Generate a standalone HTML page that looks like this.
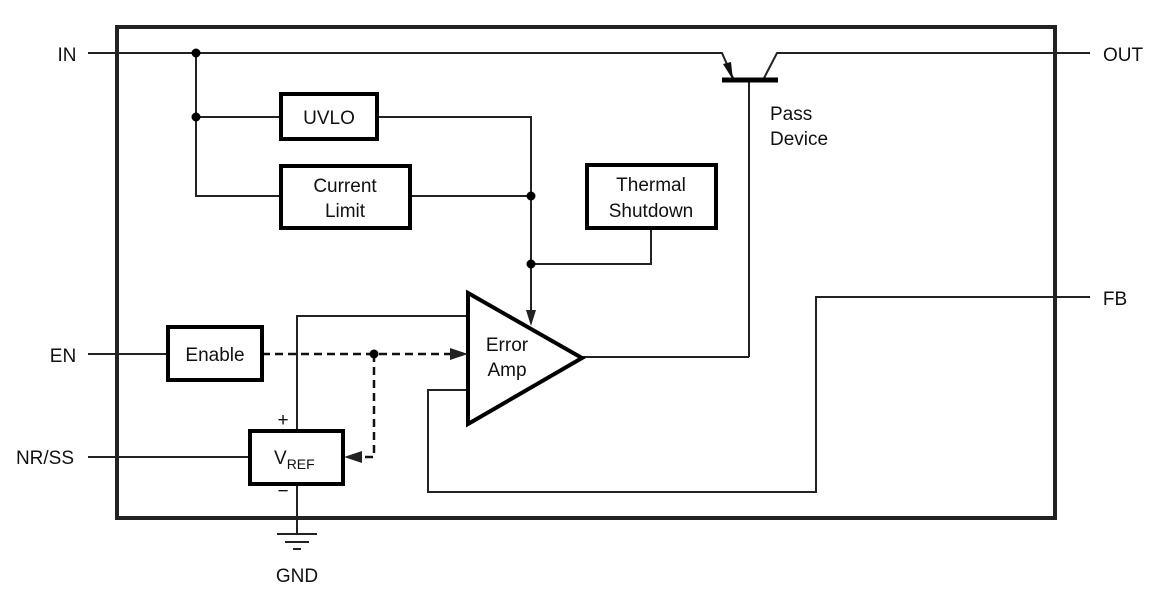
<!DOCTYPE html>
<html><head><meta charset="utf-8"><style>
html,body{margin:0;padding:0;background:#fff;}
svg{display:block;}
text{font-family:"Liberation Sans",Arial,sans-serif;font-size:19px;fill:#111;}
</style></head><body>
<svg width="1156" height="594" viewBox="0 0 1156 594" xmlns="http://www.w3.org/2000/svg">
<rect x="117" y="27" width="938" height="491" fill="none" stroke="#222" stroke-width="4"/>
<g fill="none" stroke="#222" stroke-width="2">
<polyline points="88,53 722,53 733,78"/>
<polyline points="763,80 777,53 1090,53"/>
<line x1="749" y1="80" x2="749" y2="357"/>
<line x1="749" y1="357" x2="582" y2="357"/>
<polyline points="196,53 196,196 281,196"/>
<line x1="196" y1="117" x2="281" y2="117"/>
<polyline points="377,117 531,117 531,312"/>
<line x1="410" y1="196" x2="531" y2="196"/>
<polyline points="531,264 651,264 651,228"/>
<line x1="88" y1="354" x2="167" y2="354"/>
<line x1="88" y1="457" x2="249" y2="457"/>
<polyline points="297,431 297,316 468,316"/>
<line x1="297" y1="484" x2="297" y2="534"/>
<line x1="277" y1="534" x2="317" y2="534"/>
<line x1="285" y1="542" x2="309" y2="542"/>
<line x1="293" y1="549" x2="301" y2="549"/>
<polyline points="468,390 428,390 428,492 816,492 816,297 1090,297"/>
</g>
<line x1="722" y1="80" x2="778" y2="80" stroke="#000" stroke-width="5"/>
<polygon points="733,80 723,64 731,62" fill="#111"/>
<polygon points="531,326 526,310 536,310" fill="#222"/>
<g stroke="#111" stroke-width="2.5" stroke-dasharray="8,5" fill="none">
<line x1="262" y1="354" x2="452" y2="354"/>
<polyline points="374,354 374,457 360,457"/>
</g>
<polygon points="468,354 450,348 450,360" fill="#222"/>
<polygon points="344,457 362,451 362,463" fill="#222"/>
<g fill="#000">
<circle cx="196" cy="53" r="4.5"/><circle cx="196" cy="117" r="4.5"/>
<circle cx="531" cy="196" r="4.5"/><circle cx="531" cy="264" r="4.5"/>
<circle cx="374" cy="354" r="4.5"/>
</g>
<g fill="#fff" stroke="#000" stroke-width="4">
<rect x="281" y="94" width="96" height="45"/>
<rect x="281" y="166" width="129" height="62"/>
<rect x="587" y="165" width="129" height="63"/>
<rect x="168" y="327" width="94" height="53"/>
<rect x="250" y="431" width="93" height="53"/>
<polygon points="468,293 468,424 582,358"/>
</g>
<text x="67" y="61" text-anchor="middle">IN</text>
<text x="1123" y="61" text-anchor="middle">OUT</text>
<text x="63" y="362" text-anchor="middle">EN</text>
<text x="45" y="464" text-anchor="middle">NR/SS</text>
<text x="1115" y="305" text-anchor="middle">FB</text>
<text x="297" y="582" text-anchor="middle">GND</text>
<text x="770" y="120">Pass</text>
<text x="770" y="145">Device</text>
<text x="329" y="124" text-anchor="middle">UVLO</text>
<text x="345" y="192" text-anchor="middle">Current</text>
<text x="345" y="217" text-anchor="middle">Limit</text>
<text x="651" y="191" text-anchor="middle">Thermal</text>
<text x="651" y="217" text-anchor="middle">Shutdown</text>
<text x="215" y="361" text-anchor="middle">Enable</text>
<text x="507" y="351" text-anchor="middle">Error</text>
<text x="507" y="376" text-anchor="middle">Amp</text>
<text x="274" y="464" font-size="22">V<tspan font-size="14" dy="5">REF</tspan></text>
<text x="283" y="426" text-anchor="middle" font-size="16">+</text>
<text x="283" y="497" text-anchor="middle" font-size="16">−</text>
</svg>
</body></html>
